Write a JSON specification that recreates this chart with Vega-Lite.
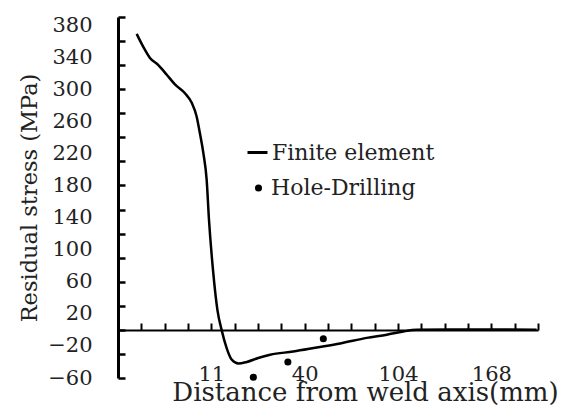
{
  "$schema": "https://vega.github.io/schema/vega-lite/v6.json",
  "autosize": "none",
  "width": 420,
  "height": 361,
  "padding": {"left": 118, "top": 17, "right": 26, "bottom": 30},
  "background": "white",
  "config": {
    "view": {"stroke": null},
    "font": "DejaVu Serif"
  },
  "datasets": {
    "fe": [
      {"x": 0.80, "stress": 369, "series": "Finite element"},
      {"x": 1.08, "stress": 353, "series": "Finite element"},
      {"x": 1.37, "stress": 339, "series": "Finite element"},
      {"x": 1.73, "stress": 330, "series": "Finite element"},
      {"x": 2.09, "stress": 318, "series": "Finite element"},
      {"x": 2.44, "stress": 306, "series": "Finite element"},
      {"x": 2.87, "stress": 295, "series": "Finite element"},
      {"x": 3.16, "stress": 283, "series": "Finite element"},
      {"x": 3.37, "stress": 266, "series": "Finite element"},
      {"x": 3.51, "stress": 245, "series": "Finite element"},
      {"x": 3.66, "stress": 220, "series": "Finite element"},
      {"x": 3.80, "stress": 187, "series": "Finite element"},
      {"x": 3.90, "stress": 137, "series": "Finite element"},
      {"x": 4.07, "stress": 75, "series": "Finite element"},
      {"x": 4.26, "stress": 25, "series": "Finite element"},
      {"x": 4.44, "stress": 0, "series": "Finite element"},
      {"x": 4.66, "stress": -23, "series": "Finite element"},
      {"x": 4.87, "stress": -37, "series": "Finite element"},
      {"x": 5.16, "stress": -42, "series": "Finite element"},
      {"x": 5.52, "stress": -40, "series": "Finite element"},
      {"x": 6.01, "stress": -35, "series": "Finite element"},
      {"x": 6.52, "stress": -31, "series": "Finite element"},
      {"x": 7.51, "stress": -27, "series": "Finite element"},
      {"x": 8.52, "stress": -22, "series": "Finite element"},
      {"x": 9.52, "stress": -17, "series": "Finite element"},
      {"x": 10.66, "stress": -10, "series": "Finite element"},
      {"x": 11.52, "stress": -6, "series": "Finite element"},
      {"x": 12.23, "stress": -2, "series": "Finite element"},
      {"x": 12.80, "stress": 0, "series": "Finite element"},
      {"x": 14.23, "stress": 0.5, "series": "Finite element"},
      {"x": 15.94, "stress": 0.5, "series": "Finite element"},
      {"x": 17.94, "stress": 0, "series": "Finite element"}
    ],
    "hd": [
      {"x": 5.80, "stress": -59, "series": "Hole-Drilling"},
      {"x": 7.28, "stress": -40, "series": "Hole-Drilling"},
      {"x": 8.80, "stress": -11, "series": "Hole-Drilling"}
    ]
  },
  "resolve": {"axis": {"x": "independent", "y": "independent"}},
  "layer": [
    {
      "data": {"name": "fe"},
      "mark": {"type": "line", "strokeWidth": 2.5, "interpolate": "monotone"},
      "encoding": {
        "x": {
          "field": "x",
          "type": "quantitative",
          "scale": {"domain": [0, 18], "nice": false, "zero": false},
          "axis": {
            "orient": "bottom",
            "offset": -48,
            "values": [4, 8, 12, 16],
            "labelExpr": "datum.value == 4 ? '11' : datum.value == 8 ? '40' : datum.value == 12 ? '104' : '168'",
            "labelOverlap": false,
            "labelFont": "DejaVu Serif",
            "labelFontSize": 21,
            "labelColor": "#222",
            "labelPadding": 33,
            "labelDx": 5,
            "domain": false,
            "ticks": false,
            "grid": false,
            "title": "Distance from weld axis(mm)",
            "titleFont": "DejaVu Serif",
            "titleFontSize": 26,
            "titleFontWeight": "normal",
            "titleColor": "#222",
            "titlePadding": -5,
            "titleX": 247
          }
        },
        "y": {
          "field": "stress",
          "type": "quantitative",
          "scale": {"domain": [-60, 390], "nice": false, "zero": false},
          "axis": {
            "orient": "left",
            "values": [-60, -20, 20, 60, 100, 140, 180, 220, 260, 300, 340, 380],
            "labelOverlap": false,
            "labelFont": "DejaVu Serif",
            "labelFontSize": 21,
            "labelColor": "#222",
            "labelPadding": 26,
            "ticks": false,
            "domainColor": "black",
            "domainWidth": 3,
            "grid": false,
            "title": "Residual stress (MPa)",
            "titleFont": "DejaVu Serif",
            "titleFontSize": 22.5,
            "titleFontWeight": "normal",
            "titleColor": "#222",
            "titlePadding": 6
          }
        },
        "color": {
          "field": "series",
          "type": "nominal",
          "scale": {"domain": ["Finite element"], "range": ["black"]},
          "legend": {
            "title": null,
            "orient": "none",
            "legendX": 128,
            "legendY": 124,
            "labelFont": "DejaVu Serif",
            "labelFontSize": 22,
            "labelColor": "#222",
            "labelLimit": 400,
            "labelOffset": 3,
            "symbolType": "stroke",
            "symbolSize": 400,
            "symbolStrokeWidth": 3,
            "symbolStrokeColor": "black"
          }
        }
      }
    },
    {
      "data": {"name": "hd"},
      "mark": {"type": "point", "filled": true, "color": "black", "opacity": 1, "size": 50},
      "encoding": {
        "x": {
          "field": "x",
          "type": "quantitative",
          "scale": {"domain": [0, 18], "nice": false, "zero": false},
          "axis": {
            "orient": "top",
            "offset": -313,
            "values": [1,2,3,4,5,6,7,8,9,10,11,12,13,14,15,16,17,18],
            "labels": false,
            "domainColor": "black",
            "domainWidth": 2,
            "tickColor": "black",
            "tickWidth": 2,
            "tickSize": 7,
            "grid": false,
            "title": null
          }
        },
        "y": {
          "field": "stress",
          "type": "quantitative",
          "scale": {"domain": [-60, 390], "nice": false, "zero": false},
          "axis": {
            "orient": "right",
            "offset": -420,
            "values": [-60,-30,0,30,60,90,120,150,180,210,240,270,300,330,360,390],
            "labels": false,
            "domain": false,
            "tickColor": "black",
            "tickWidth": 2.5,
            "tickSize": 7,
            "grid": false,
            "title": null
          }
        },
        "shape": {
          "field": "series",
          "type": "nominal",
          "scale": {"domain": ["Hole-Drilling"], "range": ["circle"]},
          "legend": {
            "title": null,
            "orient": "none",
            "legendX": 129.5,
            "legendY": 160,
            "labelFont": "DejaVu Serif",
            "labelFontSize": 22,
            "labelColor": "#222",
            "labelLimit": 400,
            "labelOffset": 1.5,
            "symbolSize": 50,
            "symbolFillColor": "black",
            "symbolStrokeWidth": 0
          }
        }
      }
    }
  ]
}
